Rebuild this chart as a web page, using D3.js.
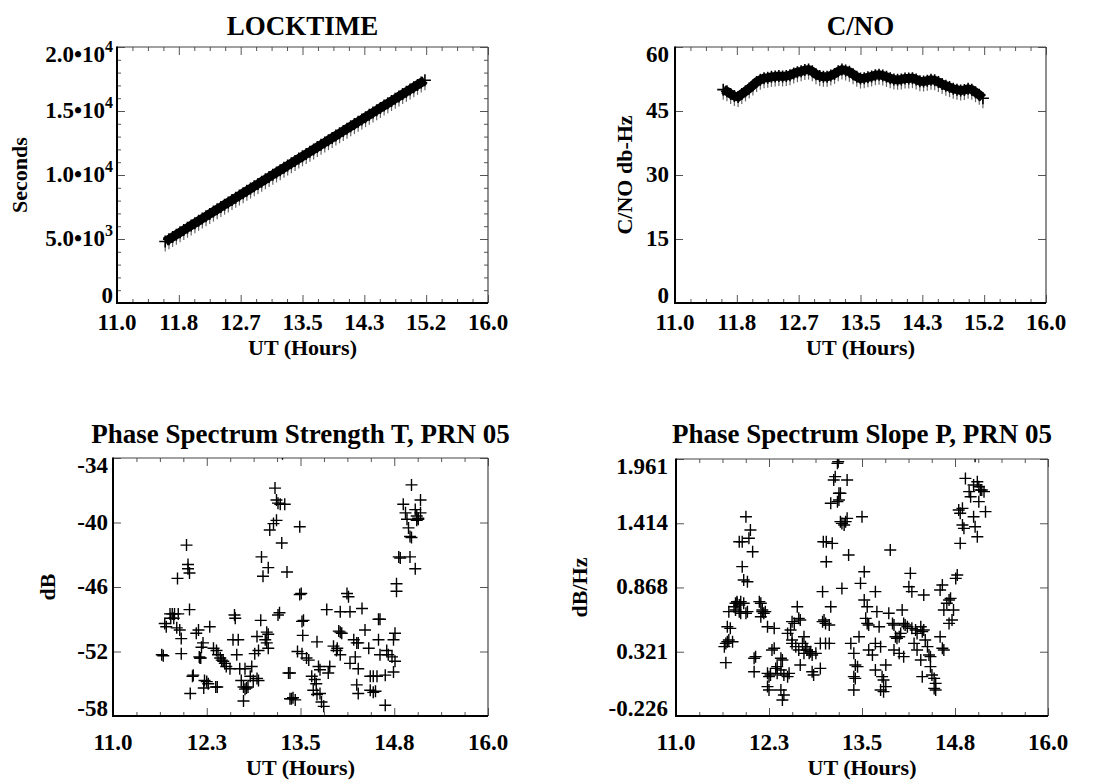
<!DOCTYPE html>
<html>
<head>
<meta charset="utf-8">
<script src="https://cdn.jsdelivr.net/npm/d3@7"></script>
<style>
  body { margin: 0; background: #fff; }
  svg { display: block; }
  svg text { font-family: "Liberation Serif", "Times New Roman", "DejaVu Serif", serif !important; font-weight: bold; fill: #000; }
</style>
</head>
<body>
<script>
// ---- data ----
const topHours = [11.65, 11.70, 11.75, 11.80, 11.85, 11.90, 11.95, 12.00, 12.05, 12.10,
  12.15, 12.20, 12.25, 12.30, 12.35, 12.40, 12.45, 12.50, 12.55, 12.60,
  12.65, 12.70, 12.75, 12.80, 12.85, 12.90, 12.95, 13.00, 13.05, 13.10,
  13.15, 13.20, 13.25, 13.30, 13.35, 13.40, 13.45, 13.50, 13.55, 13.60,
  13.65, 13.70, 13.75, 13.80, 13.85, 13.90, 13.95, 14.00, 14.05, 14.10,
  14.15, 14.20, 14.25, 14.30, 14.35, 14.40, 14.45, 14.50, 14.55, 14.60,
  14.65, 14.70, 14.75, 14.80, 14.85, 14.90, 14.95, 15.00, 15.05, 15.10, 15.15];

const lockSeconds = [4800, 4980, 5160, 5340, 5520, 5700, 5880, 6060, 6240, 6420,
  6600, 6780, 6960, 7140, 7320, 7500, 7680, 7860, 8040, 8220,
  8400, 8580, 8760, 8940, 9120, 9300, 9480, 9660, 9840, 10020,
  10200, 10380, 10560, 10740, 10920, 11100, 11280, 11460, 11640, 11820,
  12000, 12180, 12360, 12540, 12720, 12900, 13080, 13260, 13440, 13620,
  13800, 13980, 14160, 14340, 14520, 14700, 14880, 15060, 15240, 15420,
  15600, 15780, 15960, 16140, 16320, 16500, 16680, 16860, 17040, 17220, 17400];

const cnoValues = [50.0, 49.6, 49.0, 48.5, 48.3, 49.0, 49.6, 50.3, 51.0, 51.8,
  52.3, 52.7, 52.8, 53.0, 53.1, 53.2, 53.1, 53.2, 53.4, 53.8,
  54.1, 54.3, 54.6, 54.7, 54.3, 53.6, 53.2, 53.0, 53.0, 53.3,
  53.7, 54.3, 54.7, 54.5, 54.2, 53.6, 53.0, 52.6, 52.7, 52.9,
  53.1, 53.4, 53.5, 53.3, 53.0, 52.7, 52.4, 52.3, 52.4, 52.6,
  52.6, 52.7, 52.4, 52.0, 51.9, 52.1, 52.3, 52.2, 51.8, 51.3,
  50.9, 50.6, 50.2, 50.0, 49.8, 49.9, 50.2, 50.0, 49.4, 48.8, 48.0];

// [UT hours, dB]
const strengthPts = [[11.65,-52.3],[11.67,-52.4],[11.69,-49.4],[11.71,-49.7],[11.76,-48.5],[11.79,-48.5],
  [11.82,-48.5],[11.87,-48.5],[11.77,-48.9],[11.81,-48.9],[11.85,-49.8],[11.89,-50.0],[11.91,-50.8],
  [12.02,-48.1],[11.91,-52.2],[11.98,-42.1],[12.00,-43.9],[12.00,-44.3],[12.02,-44.7],[11.86,-45.2],
  [12.14,-50.0],[12.11,-50.3],[12.29,-49.7],[12.20,-51.2],[12.18,-51.6],[12.15,-52.5],[12.16,-52.6],
  [12.17,-52.6],[12.07,-54.2],[12.06,-54.3],[12.03,-55.9],[12.22,-54.7],[12.25,-54.8],[12.27,-55.0],
  [12.21,-55.4],[12.37,-55.3],[12.39,-55.3],[12.34,-51.7],[12.38,-51.9],[12.40,-52.3],[12.43,-52.6],
  [12.45,-52.8],[12.47,-52.9],[12.49,-53.1],[12.51,-53.4],[12.56,-53.6],[12.60,-50.9],[12.67,-50.9],
  [12.62,-48.6],[12.63,-48.9],[12.65,-52.3],[12.69,-53.6],[12.76,-53.6],[12.71,-54.7],[12.74,-55.3],
  [12.76,-55.5],[12.78,-55.4],[12.80,-55.3],[12.74,-56.6],[12.83,-54.3],[12.87,-54.7],[12.92,-54.5],
  [12.94,-54.7],[12.85,-53.4],[12.89,-52.2],[12.94,-51.9],[12.92,-50.6],[12.97,-49.1],[13.03,-50.9],
  [13.05,-51.2],[13.07,-51.7],[13.05,-50.2],[13.07,-50.4],[12.98,-43.2],[13.00,-45.0],[13.07,-44.2],
  [13.09,-40.7],[13.14,-40.1],[13.18,-39.8],[13.16,-36.8],[13.18,-37.9],[13.20,-38.2],[13.23,-38.3],
  [13.29,-38.3],[13.25,-41.9],[13.32,-44.6],[13.20,-48.6],[13.22,-48.4],[13.26,-33.6],[13.49,-40.4],
  [13.51,-46.6],[13.49,-46.7],[13.52,-49.2],[13.54,-49.1],[13.53,-50.5],[13.46,-52.0],[13.52,-52.2],
  [13.34,-54.0],[13.36,-54.0],[13.36,-56.4],[13.38,-56.4],[13.40,-56.3],[13.43,-56.5],[13.58,-52.6],
  [13.61,-52.8],[13.65,-54.3],[13.69,-54.6],[13.71,-55.0],[13.72,-51.1],[13.74,-53.4],[13.76,-53.7],
  [13.67,-55.6],[13.72,-56.0],[13.76,-55.9],[13.78,-56.7],[13.81,-57.1],[13.85,-48.1],[13.89,-53.4],
  [13.87,-54.0],[13.94,-51.5],[13.98,-51.9],[14.01,-50.1],[14.03,-50.2],[14.05,-50.3],[14.03,-52.3],
  [13.99,-51.7],[14.12,-46.6],[14.14,-46.9],[14.03,-48.3],[14.16,-48.3],[14.32,-48.0],[14.21,-50.9],
  [14.25,-51.2],[14.27,-51.2],[14.16,-53.1],[14.23,-52.5],[14.27,-53.6],[14.25,-55.1],[14.27,-55.9],
  [14.36,-50.0],[14.41,-51.7],[14.43,-54.3],[14.43,-55.6],[14.47,-55.8],[14.50,-55.7],[14.47,-54.3],
  [14.52,-54.3],[14.54,-49.0],[14.56,-49.0],[14.54,-50.9],[14.56,-52.3],[14.63,-54.2],[14.63,-57.0],
  [14.65,-51.9],[14.67,-52.3],[14.72,-52.5],[14.76,-52.9],[14.76,-50.3],[14.74,-50.9],[14.74,-53.9],
  [14.78,-45.7],[14.78,-46.4],[14.81,-43.2],[14.83,-43.3],[14.96,-43.2],[15.03,-44.3],[14.87,-38.3],
  [14.90,-39.1],[14.92,-39.7],[14.94,-40.5],[14.96,-41.3],[14.98,-41.4],[14.98,-36.5],[15.03,-38.8],
  [15.05,-39.4],[15.07,-39.6],[15.10,-39.1],[15.10,-37.9],[15.05,-39.8],[15.07,-39.7]];

// [UT hours, dB/Hz]
const slopePts = [[11.65,0.364],[11.67,0.392],[11.69,0.406],[11.67,0.228],[11.71,0.421],[11.76,0.406],
  [11.69,0.534],[11.73,0.520],[11.71,0.662],[11.78,0.704],[11.80,0.733],[11.82,0.733],[11.85,0.719],
  [11.80,0.676],[11.85,0.662],[11.87,0.648],[11.82,0.747],[11.87,0.747],[11.91,0.733],[11.89,1.045],
  [11.91,0.931],[11.96,0.917],[11.85,1.257],[11.89,1.257],[11.94,1.470],[11.98,1.286],[12.00,1.357],
  [12.03,1.172],[11.94,0.648],[11.96,0.662],[12.05,0.265],[12.07,0.279],[12.05,0.151],[12.12,0.747],
  [12.14,0.733],[12.16,0.662],[12.18,0.648],[12.16,0.676],[12.20,0.662],[12.14,0.619],[12.23,0.534],
  [12.32,0.520],[12.23,0.137],[12.25,0.109],[12.27,0.123],[12.23,0.024],[12.25,-0.005],[12.29,0.336],
  [12.32,0.350],[12.34,0.179],[12.36,0.194],[12.41,0.265],[12.43,0.250],[12.36,0.137],[12.41,0.165],
  [12.45,0.123],[12.50,0.109],[12.52,0.137],[12.41,-0.005],[12.45,-0.047],[12.43,-0.090],[12.50,0.477],
  [12.54,0.506],[12.56,0.421],[12.56,0.577],[12.59,0.562],[12.63,0.704],[12.65,0.605],[12.67,0.591],
  [12.56,0.392],[12.61,0.364],[12.65,0.336],[12.70,0.392],[12.72,0.449],[12.67,0.208],[12.72,0.307],
  [12.74,0.364],[12.76,0.336],[12.79,0.307],[12.81,0.321],[12.83,0.293],[12.88,0.307],[12.83,0.151],
  [12.85,0.123],[12.94,0.179],[12.97,0.577],[12.99,0.591],[13.01,0.562],[13.06,0.548],[12.97,0.832],
  [12.94,0.392],[13.01,0.392],[13.06,0.392],[13.08,0.704],[12.98,1.257],[13.02,1.257],[13.10,1.243],
  [13.02,1.087],[13.08,1.584],[13.17,1.598],[13.19,1.612],[13.21,1.669],[13.19,1.669],[13.12,1.782],
  [13.14,1.811],[13.17,1.924],[13.18,1.938],[13.30,1.782],[13.21,1.428],[13.23,1.413],[13.26,1.399],
  [13.28,1.428],[13.30,1.456],[13.32,1.144],[13.23,0.860],[13.35,0.392],[13.39,0.307],[13.41,0.208],
  [13.44,0.194],[13.39,0.109],[13.41,0.094],[13.39,-0.005],[13.46,0.449],[13.50,1.470],[13.53,1.002],
  [13.48,0.903],[13.53,0.761],[13.57,0.704],[13.55,0.605],[13.57,0.562],[13.59,0.548],[13.59,0.336],
  [13.64,0.293],[13.68,0.832],[13.70,0.662],[13.73,0.534],[13.68,0.392],[13.75,0.364],[13.68,0.165],
  [13.77,0.109],[13.79,0.080],[13.75,-0.005],[13.79,-0.019],[13.82,0.024],[13.82,0.208],[13.88,1.187],
  [13.86,0.648],[13.91,0.562],[13.93,0.548],[13.95,0.449],[13.97,0.435],[14.00,0.449],[14.02,0.477],
  [14.04,0.676],[14.06,0.562],[14.08,0.548],[13.93,0.336],[14.00,0.307],[14.06,0.279],[14.13,0.874],
  [14.15,0.988],[14.17,0.832],[14.11,0.534],[14.17,0.520],[14.22,0.506],[14.24,0.477],[14.29,0.534],
  [14.31,0.492],[14.33,0.506],[14.20,0.392],[14.24,0.336],[14.29,0.250],[14.31,0.109],[14.33,0.804],
  [14.35,0.421],[14.38,0.364],[14.40,0.293],[14.42,0.279],[14.44,0.123],[14.47,0.094],[14.49,0.052],
  [14.47,0.009],[14.49,-0.005],[14.42,0.194],[14.55,0.449],[14.58,0.350],[14.60,0.336],[14.55,0.846],
  [14.58,0.889],[14.60,0.676],[14.64,0.733],[14.67,0.761],[14.69,0.775],[14.67,0.562],[14.71,0.591],
  [14.73,0.676],[14.76,0.945],[14.78,0.974],[14.82,1.243],[14.85,1.399],[14.87,1.371],[14.80,1.527],
  [14.82,1.499],[14.85,1.541],[14.89,1.796],[14.94,1.683],[14.96,1.640],[15.00,1.470],[15.02,1.385],
  [15.05,1.300],[15.00,1.740],[15.05,1.768],[15.07,1.725],[15.09,1.697],[15.11,1.697],[15.14,1.683],
  [15.07,1.598],[15.16,1.513],[15.02,1.985]];

// tick values and labels
const topXTicks = [11, 11 + 5 / 6, 11 + 10 / 6, 13.5, 11 + 20 / 6, 11 + 25 / 6, 16];
const topXLabels = ["11.0", "11.8", "12.7", "13.5", "14.3", "15.2", "16.0"];
const lowXTicks = [11, 12.25, 13.5, 14.75, 16];
const lowXLabels = ["11.0", "12.3", "13.5", "14.8", "16.0"];
const lockYTicks = [0, 5000, 10000, 15000, 20000];
const lockYLabels = ["0", ["5.0\u202210", "3"], ["1.0\u202210", "4"], ["1.5\u202210", "4"], ["2.0\u202210", "4"]];
const cnoYTicks = [0, 15, 30, 45, 60];
const cnoYLabels = ["0", "15", "30", "45", "60"];
const strengthYTicks = [-58, -52, -46, -40, -34];
const strengthYLabels = ["-58", "-52", "-46", "-40", "-34"];
const slopeYTicks = [-0.226, 0.321, 0.868, 1.414, 1.961];
const slopeYLabels = ["-0.226", "0.321", "0.868", "1.414", "1.961"];

// ---- drawing ----
const FONT = "'Liberation Serif', 'Times New Roman', 'DejaVu Serif', serif";
const svg = d3.select("body").append("svg")
  .attr("width", 1114).attr("height", 782)
  .attr("font-family", FONT).attr("font-weight", "bold");

// intermediate values between major ticks
const minorValues = (ticks, n) => {
  const out = [];
  for (let i = 0; i < ticks.length - 1; i++) {
    for (let k = 1; k < n; k++) out.push(ticks[i] + (ticks[i + 1] - ticks[i]) * k / n);
  }
  return out;
};

let clipId = 0;

const drawPanel = (cfg, points, dense) => {
  const [x0, x1, y0, y1] = cfg.box;
  const x = d3.scaleLinear().domain(cfg.xDomain).range([x0, x1]);
  const y = d3.scaleLinear().domain(cfg.yDomain).range([y1, y0]);
  const g = svg.append("g");

  // ticks on all four sides, pointing inward
  const tickSet = (xv, yv, len) => {
    [[d3.axisBottom(x), `translate(0,${y1})`, xv], [d3.axisTop(x), `translate(0,${y0})`, xv],
     [d3.axisLeft(y), `translate(${x0},0)`, yv], [d3.axisRight(y), `translate(${x1},0)`, yv]]
      .forEach(([ax, tr, vals]) => {
        g.append("g").attr("transform", tr)
          .call(ax.tickValues(vals).tickSize(-len).tickFormat(""))
          .call(a => a.select(".domain").remove())
          .selectAll("line").attr("stroke", "#555").attr("stroke-width", 1);
      });
  };
  tickSet(minorValues(cfg.xTicks, cfg.xMinor), cfg.yMinor ? minorValues(cfg.yTicks, cfg.yMinor) : [], 4);
  tickSet(cfg.xTicks, cfg.yTicks, 8);

  // frame: left/bottom heavy, top/right light
  g.append("line").attr("x1", x0).attr("x2", x1).attr("y1", y0).attr("y2", y0).attr("stroke", "#444").attr("stroke-width", 1.2);
  g.append("line").attr("x1", x1).attr("x2", x1).attr("y1", y0).attr("y2", y1).attr("stroke", "#444").attr("stroke-width", 1.2);
  g.append("line").attr("x1", x0).attr("x2", x0).attr("y1", y0 - 0.5).attr("y2", y1 + 1).attr("stroke", "#000").attr("stroke-width", 2);
  g.append("line").attr("x1", x0 - 1).attr("x2", x1).attr("y1", y1).attr("y2", y1).attr("stroke", "#000").attr("stroke-width", 2);

  // x tick labels
  g.selectAll(".xl").data(cfg.xTicks).enter().append("text")
    .attr("x", d => x(d)).attr("y", cfg.xLabelY)
    .attr("text-anchor", "middle").attr("font-size", 23)
    .text((d, i) => cfg.xLabels[i]);

  // y tick labels, end labels kept inside the frame
  cfg.yTicks.forEach((v, i) => {
    const lab = cfg.yLabels[i];
    const base = Math.min(y1, Math.max(y0 + 15, y(v) + 7));
    const t = g.append("text").attr("x", x0 - cfg.yGap).attr("y", base)
      .attr("text-anchor", "end").attr("font-size", 23);
    if (Array.isArray(lab)) {
      t.append("tspan").text(lab[0]);
      t.append("tspan").attr("dy", -10).attr("font-size", 16).text(lab[1]);
    } else {
      t.text(lab);
    }
  });

  // titles
  g.append("text").attr("x", (x0 + x1) / 2).attr("y", cfg.titleY)
    .attr("text-anchor", "middle").attr("font-size", 27).text(cfg.title);
  g.append("text").attr("x", (x0 + x1) / 2).attr("y", cfg.xTitleY)
    .attr("text-anchor", "middle").attr("font-size", 22).text("UT (Hours)");
  g.append("text")
    .attr("transform", `translate(${cfg.yTitleX},${(y0 + y1) / 2}) rotate(-90)`)
    .attr("text-anchor", "middle").attr("font-size", 22).text(cfg.yTitle);

  // plot symbols, clipped to the frame
  const id = "clip" + (clipId++);
  svg.append("clipPath").attr("id", id).append("rect")
    .attr("x", x0).attr("y", y0).attr("width", x1 - x0).attr("height", y1 - y0);
  const m = g.append("g").attr("clip-path", `url(#${id})`);
  const s = 6;
  if (dense) {
    // densely packed symbols: grey lower whiskers and a solid core
    m.selectAll(".bar").data(points).enter().append("line")
      .attr("x1", d => x(d[0])).attr("x2", d => x(d[0]))
      .attr("y1", d => y(d[1])).attr("y2", d => y(d[1]) + 10)
      .attr("stroke", "#666").attr("stroke-width", 1.2);
    m.append("path").datum(points)
      .attr("d", d3.line().x(d => x(d[0])).y(d => y(d[1])))
      .attr("fill", "none").attr("stroke", "#000").attr("stroke-width", 9);
  }
  m.selectAll(".pt").data(points).enter().append("path")
    .attr("d", d => {
      const px = x(d[0]), py = y(d[1]);
      return `M${px - s},${py}H${px + s}M${px},${py - s}V${py + s}`;
    })
    .attr("fill", "none").attr("stroke", "#000").attr("stroke-width", dense ? 1.6 : 1.4);
};

drawPanel({
  title: "LOCKTIME", box: [117, 488, 47, 303],
  xDomain: [11, 16], xTicks: topXTicks, xLabels: topXLabels, xMinor: 4,
  yDomain: [0, 20000], yTicks: lockYTicks, yLabels: lockYLabels, yMinor: 5, yGap: 4,
  yTitle: "Seconds", yTitleX: 27, titleY: 35, xLabelY: 330, xTitleY: 355
}, topHours.map((h, i) => [h, lockSeconds[i]]), true);

drawPanel({
  title: "C/NO", box: [675, 1046, 47, 303],
  xDomain: [11, 16], xTicks: topXTicks, xLabels: topXLabels, xMinor: 4,
  yDomain: [0, 60], yTicks: cnoYTicks, yLabels: cnoYLabels, yMinor: 0, yGap: 6,
  yTitle: "C/NO db-Hz", yTitleX: 632, titleY: 35, xLabelY: 330, xTitleY: 355
}, topHours.map((h, i) => [h, cnoValues[i]]), true);

drawPanel({
  title: "Phase Spectrum Strength T, PRN 05", box: [113, 488, 458, 716],
  xDomain: [11, 16], xTicks: lowXTicks, xLabels: lowXLabels, xMinor: 4,
  yDomain: [-58, -34], yTicks: strengthYTicks, yLabels: strengthYLabels, yMinor: 0, yGap: 5,
  yTitle: "dB", yTitleX: 55, titleY: 443, xLabelY: 750, xTitleY: 775
}, strengthPts, false);

drawPanel({
  title: "Phase Spectrum Slope P, PRN 05", box: [676, 1048, 459, 716],
  xDomain: [11, 16], xTicks: lowXTicks, xLabels: lowXLabels, xMinor: 4,
  yDomain: [-0.226, 1.961], yTicks: slopeYTicks, yLabels: slopeYLabels, yMinor: 0, yGap: 8,
  yTitle: "dB/Hz", yTitleX: 587, titleY: 443, xLabelY: 750, xTitleY: 775
}, slopePts, false);
</script>
</body>
</html>
